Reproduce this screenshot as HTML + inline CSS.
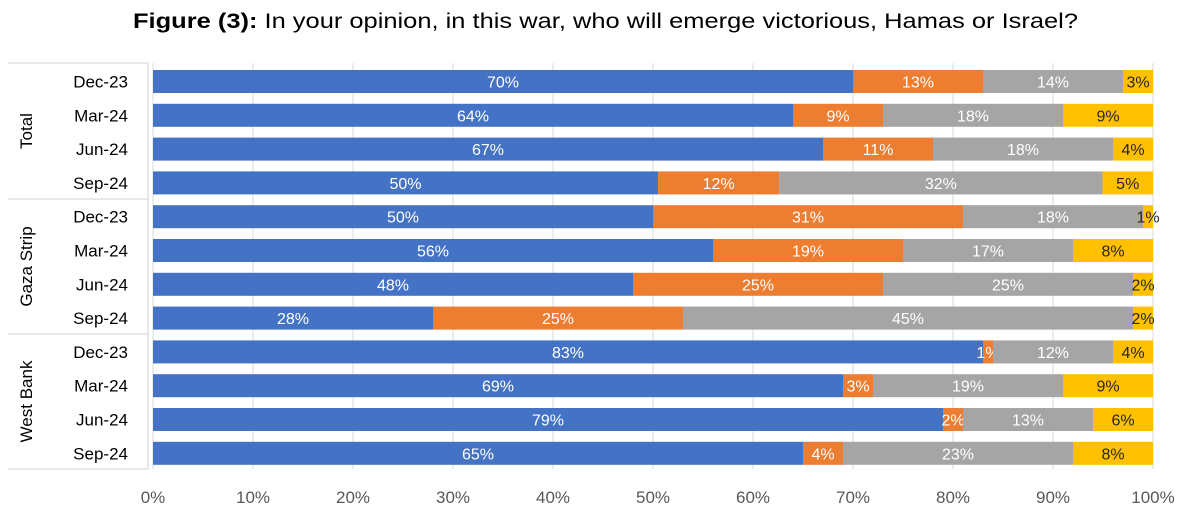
<!DOCTYPE html>
<html><head><meta charset="utf-8"><style>
body{margin:0;background:#fff;}
svg{display:block;font-family:"Liberation Sans",sans-serif;}
</style></head><body>
<svg id="chart" width="1200" height="528" viewBox="0 0 1200 528">
<text x="133" y="28" font-size="21" fill="#000" textLength="945" lengthAdjust="spacingAndGlyphs"><tspan font-weight="bold">Figure (3):</tspan> In your opinion, in this war, who will emerge victorious, Hamas or Israel?</text>
<g id="grid"></g><g id="bars"></g><g id="labels"></g><g id="axis"></g>
</svg>
<script>
const groups=["Total","Gaza Strip","West Bank"];
const periods=["Dec-23","Mar-24","Jun-24","Sep-24"];
const hamas=[70,64,67,50,50,56,48,28,83,69,79,65];
const israel=[13,9,11,12,31,19,25,25,1,3,2,4];
const neither=[14,18,18,32,18,17,25,45,12,19,13,23];
const dk=[3,9,4,5,1,8,2,2,4,9,6,8];
const ticks=[0,10,20,30,40,50,60,70,80,90,100];
const series=[hamas,israel,neither,dk];
const seriesNames=["hamas","israel","neither","dont-know"];
const colors=["#4472C4","#ED7D31","#A5A5A5","#FFC000"];
const textColors=["#fff","#fff","#fff","#262626"];
const NS="http://www.w3.org/2000/svg";
const x0=153,x1=1153,yTop=70,pitch=33.8,bh=23;
const xs=v=>x0+(x1-x0)*v/100;
const yRow=i=>yTop+i*pitch;
function mk(tag,attrs,parent){const e=document.createElementNS(NS,tag);for(const k in attrs)e.setAttribute(k,attrs[k]);parent.appendChild(e);return e;}
const grid=document.getElementById('grid'),bars=document.getElementById('bars'),labels=document.getElementById('labels'),axis=document.getElementById('axis');
ticks.forEach(t=>{
 const l=mk('line',{x1:xs(t),x2:xs(t),y1:63,y2:469,stroke:'#D9D9D9','stroke-width':1},grid);
 
 
 const tx=mk('text',{x:xs(t),y:503,'font-size':17,fill:'#595959','text-anchor':'middle'},axis);
 tx.textContent=t+'%';
 
 
});
// left frame
const gy=[63,199,334,469];
gy.forEach((y,i)=>{const l=mk('line',{x1:8,x2:148,y1:y,y2:y,stroke:'#D9D9D9','stroke-width':1.2},labels);
 
 });
const vl=mk('line',{x1:148,x2:148,y1:63,y2:469,stroke:'#D9D9D9','stroke-width':1.2},labels);


groups.forEach((g,gi)=>{
 const cy=(gy[gi]+gy[gi+1])/2;
 const t=mk('text',{x:0,y:0,'font-size':17,fill:'#000','text-anchor':'middle',transform:`translate(32,${cy}) rotate(-90)`},labels);
 t.textContent=g;
 
 
});
for(let i=0;i<hamas.length;i++){
 const y=yRow(i);
 const rl=mk('text',{x:128,y:y+bh/2+6,'font-size':17,fill:'#000','text-anchor':'end'},labels);
 rl.textContent=periods[i%4];
 
 
 const tot=series.reduce((s,a)=>s+a[i],0);
 let acc=0;
 series.forEach((arr,si)=>{
  const v=arr[i]*100/tot;
  const xa=xs(acc),xb=xs(acc+v);
  const r=mk('rect',{x:xa,y:y,width:xb-xa,height:bh,fill:colors[si]},bars);
  
  
  const t=mk('text',{x:(xa+xb)/2,y:y+bh/2+6,'font-size':16,fill:textColors[si],'text-anchor':'middle'},bars);
  t.textContent=arr[i]+'%';
  
  
  acc+=v;
 });
}
</script>
</body></html>
